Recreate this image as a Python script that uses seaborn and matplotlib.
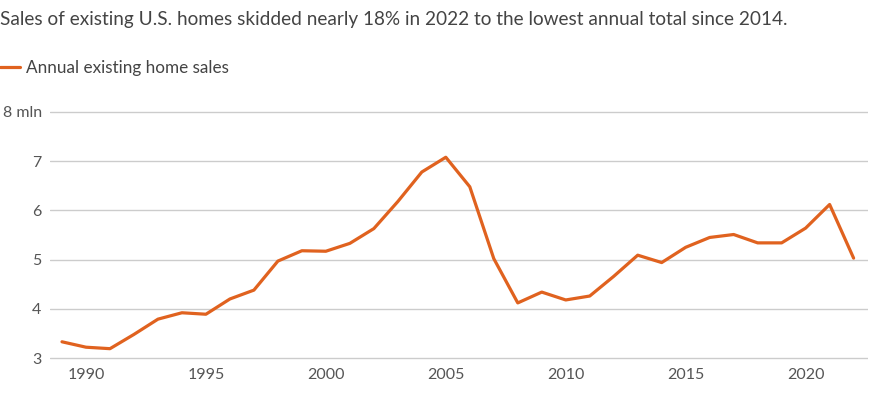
import matplotlib.pyplot as plt
import pandas as pd
import seaborn as sns

years = list(range(1989, 2023))
sales = [3.33, 3.22, 3.19, 3.48, 3.79, 3.92, 3.89, 4.20, 4.38, 4.97,
         5.18, 5.17, 5.33, 5.63, 6.18, 6.78, 7.08, 6.48, 5.02, 4.12,
         4.34, 4.18, 4.26, 4.66, 5.09, 4.94, 5.25, 5.45, 5.51, 5.34,
         5.34, 5.64, 6.12, 5.03]
y_ticks = [3, 4, 5, 6, 7, 8]
y_labels = ["3", "4", "5", "6", "7", "8 mln"]
x_ticks = [1990, 1995, 2000, 2005, 2010, 2015, 2020]

df = pd.DataFrame({"year": years, "sales": sales})

sns.set_theme(style="white")
plt.rcParams['font.family'] = ['Lato', 'DejaVu Sans']

fig = plt.figure(figsize=(8.7, 4), dpi=100)
ax = fig.add_axes([50 / 870, 40 / 400, 818 / 870, 250 / 400])

line_color = "#e0621f"
sns.lineplot(data=df, x="year", y="sales", ax=ax, color=line_color, lw=2.3,
             label="Annual existing home sales")

ax.set_xlim(1988.5, 2022.6)
ax.set_ylim(2.96, 8.04)
ax.set_yticks(y_ticks)
ax.set_yticklabels(y_labels)
ax.set_xticks(x_ticks)
ax.set_xlabel("")
ax.set_ylabel("")
for s in ax.spines.values():
    s.set_visible(False)
ax.grid(axis="y", color="#cccccc", lw=1)
ax.tick_params(axis="both", length=0, labelsize=11.5, labelcolor="#555555")
ax.tick_params(axis="y", pad=6)
ax.tick_params(axis="x", pad=6)

# legend sits above the plot, flush with the left edge of the figure
leg = ax.legend(loc="upper left", bbox_to_anchor=(0.0, 0.85),
                bbox_transform=fig.transFigure, frameon=False, fontsize=12.3,
                handlelength=1.15, handletextpad=0.4, borderaxespad=0,
                borderpad=0)
for t in leg.get_texts():
    t.set_color("#444444")

fig.text(0.0, 0.95, "Sales of existing U.S. homes skidded nearly 18% in 2022 to the lowest annual total since 2014.",
         fontsize=13.7, color="#444444", ha="left", va="center")

fig.savefig("out.png", dpi=100)
